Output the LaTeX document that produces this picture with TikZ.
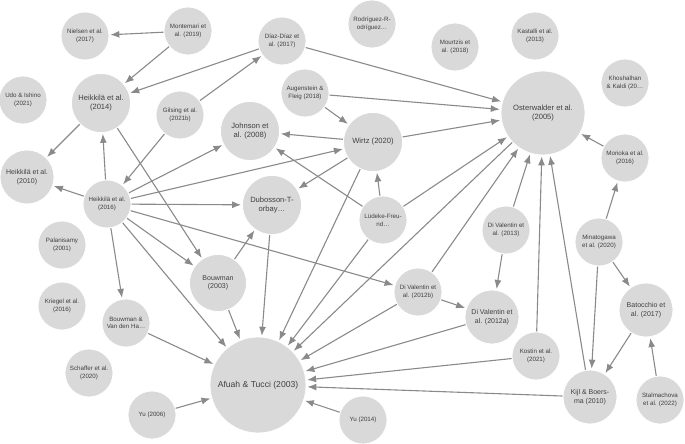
\documentclass[tikz,border=0pt]{standalone}
\usepackage{fontspec}
\setmainfont{Liberation Sans}
\usetikzlibrary{arrows.meta,backgrounds}
\definecolor{nodegray}{HTML}{D9D9D9}
\definecolor{edgegray}{HTML}{8A8A8A}
\definecolor{labelgray}{HTML}{404040}
\begin{document}
\begin{tikzpicture}[x=1pt, y=-1pt, >={Latex[length=9pt,width=7pt]},
	paper/.style={circle, fill=nodegray, draw=white, line width=0.8pt, inner sep=0pt, align=center, text=labelgray},
	smallpaper/.style={paper, minimum size=48pt, font=\fontsize{6.2}{7.6}\selectfont},
	midpaper/.style={paper, minimum size=54pt, font=\fontsize{7}{8.6}\selectfont},
	largepaper/.style={paper, minimum size=59pt, font=\fontsize{7.6}{9.2}\selectfont},
	citearrow/.style={->, draw=edgegray, line width=1.1pt, shorten >=1pt}]
	\useasboundingbox (0,0) rectangle (685,444);
	
	% top row
	\node[smallpaper] (niel) at (85,36) {Nielsen et al.\\(2017)};
	\node[smallpaper] (mont) at (188,31) {Montemari et\\al. (2019)};
	\node[smallpaper] (diaz) at (282,41) {Díaz-Díaz et\\al. (2017)};
	\node[smallpaper] (rodr) at (372,24) {Rodríguez-R-\\odríguez…};
	\node[smallpaper] (mour) at (455,47) {Mourtzis et\\al. (2018)};
	\node[smallpaper] (kast) at (535,36) {Kastalli et al.\\(2013)};
	\node[smallpaper] (khos) at (625,83) {Khoshalhan\\\& Kaldi (20…};
	\node[paper, minimum size=84pt, font=\fontsize{7.6}{9.2}\selectfont] (oster) at (543,113) {Osterwalder et al.\\(2005)};
	
	% upper middle
	\node[smallpaper] (udo) at (23,100) {Udo \& Ishino\\(2021)};
	\node[largepaper] (heik14) at (101,103) {Heikkilä et al.\\(2014)};
	\node[smallpaper] (gils) at (180,115) {Gilsing et al.\\(2021b)};
	\node[smallpaper] (aug) at (305,93) {Augenstein \&\\Fleig (2018)};
	\node[largepaper] (john) at (250,131) {Johnson et\\al. (2008)};
	\node[largepaper] (wirtz) at (373,142) {Wirtz (2020)};
	\node[midpaper] (heik10) at (27,177) {Heikkilä et al.\\(2010)};
	\node[smallpaper] (heik16) at (107,204) {Heikkilä et al.\\(2016)};
	\node[largepaper] (dub) at (272,205) {Dubosson-T-\\orbay…};
	\node[smallpaper] (lud) at (383,220) {Lüdeke-Freu-\\nd…};
	\node[smallpaper] (mor) at (625,158) {Morioka et al.\\(2016)};
	\node[smallpaper] (dv13) at (506,230) {Di Valentin et\\al. (2013)};
	\node[smallpaper] (mina) at (599,242) {Minatogawa\\et al. (2020)};
	
	% lower middle
	\node[smallpaper] (pala) at (62,245) {Palanisamy\\(2001)};
	\node[paper, minimum size=57pt, font=\fontsize{7}{8.6}\selectfont] (bouw) at (218,283) {Bouwman\\(2003)};
	\node[smallpaper] (dv12b) at (418,292) {Di Valentin et\\al. (2012b)};
	\node[midpaper] (dv12a) at (492,317) {Di Valentin et\\al. (2012a)};
	\node[midpaper] (bato) at (646,310) {Batocchio et\\al. (2017)};
	\node[smallpaper] (krie) at (62,306) {Kriegel et al.\\(2016)};
	\node[smallpaper] (bvdh) at (126,323) {Bouwman \&\\Van den Ha…};
	
	% bottom row
	\node[smallpaper] (scha) at (89,373) {Schaffer et al.\\(2020)};
	\node[paper, minimum size=96pt, font=\fontsize{8.6}{10}\selectfont] (afuah) at (258,385) {Afuah \& Tucci (2003)};
	\node[smallpaper] (kost) at (536,356) {Kostin et al.\\(2021)};
	\node[midpaper] (kijl) at (590,397) {Kijl \& Boers-\\ma (2010)};
	\node[smallpaper] (stal) at (660,400) {Stalmachova\\et al. (2022)};
	\node[smallpaper] (yu06) at (152,415) {Yu (2006)};
	\node[smallpaper] (yu14) at (363,420) {Yu (2014)};
	
	\begin{pgfonlayer}{background}
		% upper left
		\draw[citearrow] (mont) -- (niel);
		\draw[citearrow] (mont) -- (heik14);
		\draw[citearrow] (diaz) -- (heik14);
		\draw[citearrow] (diaz) -- (oster);
		\draw[citearrow] (gils) -- (diaz);
		\draw[citearrow] (gils) -- (heik16);
		\draw[citearrow] (heik14) -- (heik10);
		\draw[citearrow] (heik14) -- (bouw);
		
		% Heikkilä et al. (2016)
		\draw[citearrow] (heik16) -- (heik10);
		\draw[citearrow] (heik16) -- (heik14);
		\draw[citearrow] (heik16) -- (john);
		\draw[citearrow] (heik16) -- (wirtz);
		\draw[citearrow] (heik16) -- (dub);
		\draw[citearrow] (heik16) -- (dv12b);
		\draw[citearrow] (heik16) -- (bouw);
		\draw[citearrow] (heik16) -- (afuah);
		\draw[citearrow] (heik16) -- (bvdh);
		
		% Augenstein, Wirtz, Lüdeke-Freund
		\draw[citearrow] (aug) -- (oster);
		\draw[citearrow] (aug) -- (wirtz);
		\draw[citearrow] (wirtz) -- (oster);
		\draw[citearrow] (wirtz) -- (john);
		\draw[citearrow] (wirtz) -- (dub);
		\draw[citearrow] (wirtz) -- (afuah);
		\draw[citearrow] (lud) -- (wirtz);
		\draw[citearrow] (lud) -- (john);
		\draw[citearrow] (lud) -- (oster);
		\draw[citearrow] (lud) -- (afuah);
		
		% Bouwman, Dubosson-Torbay
		\draw[citearrow] (bouw) -- (dub);
		\draw[citearrow] (bouw) -- (afuah);
		\draw[citearrow] (dub) -- (afuah);
		
		% Di Valentin et al.
		\draw[citearrow] (dv13) -- (oster);
		\draw[citearrow] (dv13) -- (dv12a);
		\draw[citearrow] (dv12b) -- (oster);
		\draw[citearrow] (dv12b) -- (dv12a);
		\draw[citearrow] (dv12b) -- (afuah);
		\draw[citearrow] (dv12a) -- (afuah);
		\draw[citearrow] (oster) -- (afuah);
		
		% right side
		\draw[citearrow] (mor) -- (oster);
		\draw[citearrow] (mina) -- (mor);
		\draw[citearrow] (mina) -- (bato);
		\draw[citearrow] (mina) -- (kijl);
		\draw[citearrow] (bato) -- (kijl);
		\draw[citearrow] (stal) -- (bato);
		\draw[citearrow] (kijl) -- (oster);
		\draw[citearrow] (kijl) -- (afuah);
		\draw[citearrow] (kost) -- (oster);
		\draw[citearrow] (kost) -- (afuah);
		
		% bottom
		\draw[citearrow] (bvdh) -- (afuah);
		\draw[citearrow] (yu06) -- (afuah);
		\draw[citearrow] (yu14) -- (afuah);
	\end{pgfonlayer}
\end{tikzpicture}
\end{document}
